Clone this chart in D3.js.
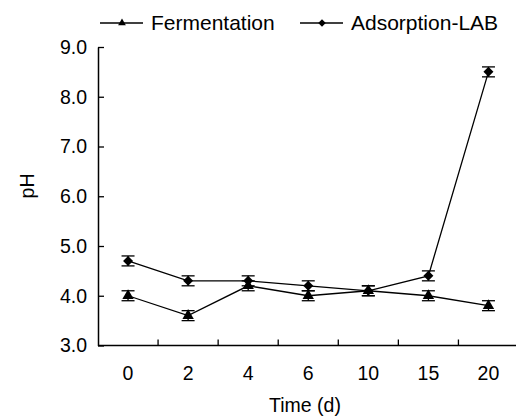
<!DOCTYPE html>
<html>
<head>
<meta charset="utf-8">
<script src="https://cdn.jsdelivr.net/npm/d3@7"></script>
<style>
  body { margin: 0; background: #fff; }
  svg { display: block; font-family: "Liberation Sans", Arial, sans-serif; }
</style>
</head>
<body>
<svg width="516" height="417"></svg>
<script>
// data
const days = ["0", "2", "4", "6", "10", "15", "20"];
const fermentation = [4.0, 3.6, 4.2, 4.0, 4.1, 4.0, 3.8];
const fermentationErr = [0.1, 0.1, 0.1, 0.1, 0.1, 0.1, 0.1];
const adsorption = [4.7, 4.3, 4.3, 4.2, 4.1, 4.4, 8.5];
const adsorptionErr = [0.1, 0.1, 0.1, 0.1, 0.1, 0.1, 0.1];
const yTicks = [3, 4, 5, 6, 7, 8, 9];

const svg = d3.select("svg");
const plotLeft = 98, plotRight = 518.5, plotTop = 47, plotBottom = 345.5;
const fs = "19.5px";

const x = d3.scaleBand().domain(days).range([plotLeft, plotRight]).padding(0);
const cx = d => x(d) + x.bandwidth() / 2;
const y = d3.scaleLinear().domain([3, 9]).range([plotBottom, plotTop]);

//y axis, ticks inside
const yAxis = svg.append("g")
  .attr("transform", `translate(${plotLeft},0)`)
  .call(d3.axisLeft(y).tickValues(yTicks).tickFormat(d3.format(".1f"))
    .tickSizeInner(-6).tickSizeOuter(0).tickPadding(11));
yAxis.select(".domain").attr("stroke-width", 1.5);
yAxis.selectAll(".tick line").attr("stroke-width", 1.3);
yAxis.selectAll("text").attr("font-size", fs).attr("fill", "#000")
  .attr("font-family", "Liberation Sans, Arial, sans-serif");

//x axis line + boundary ticks
svg.append("line")
  .attr("x1", plotLeft).attr("x2", 516)
  .attr("y1", plotBottom).attr("y2", plotBottom)
  .attr("stroke", "#000").attr("stroke-width", 1.5);
svg.append("g").selectAll("line")
  .data(days.slice(1))
  .join("line")
    .attr("x1", d => x(d)).attr("x2", d => x(d))
    .attr("y1", plotBottom).attr("y2", plotBottom - 6)
    .attr("stroke", "#000").attr("stroke-width", 1.3);

const xAxis = svg.append("g")
  .attr("transform", `translate(0,${plotBottom})`)
  .call(d3.axisBottom(x).tickSize(0).tickPadding(21));
xAxis.select(".domain").remove();
xAxis.selectAll("text").attr("font-size", fs).attr("fill", "#000")
  .attr("font-family", "Liberation Sans, Arial, sans-serif");

// axis titles
svg.append("text")
  .attr("x", 305).attr("y", 412)
  .attr("text-anchor", "middle")
  .attr("font-size", fs)
  .text("Time (d)");
svg.append("text")
  .attr("transform", "translate(34,186) rotate(-90)")
  .attr("text-anchor", "middle")
  .attr("font-size", fs)
  .text("pH");

const tri = d3.symbol().type(d3.symbolTriangle).size(56);
const dia = d3.symbol().type(d3.symbolSquare).size(50);
const triSmall = d3.symbol().type(d3.symbolTriangle).size(26);
const diaSmall = d3.symbol().type(d3.symbolSquare).size(28);

function drawSeries(vals, errs, sym, rot) {
  const pts = days.map((d, i) => ({ d, v: vals[i], e: errs[i] }));
  const g = svg.append("g");
  g.append("path")
    .datum(pts)
    .attr("fill", "none")
    .attr("stroke", "#000")
    .attr("stroke-width", 1.3)
    .attr("d", d3.line().x(p => cx(p.d)).y(p => y(p.v)));
  const eb = g.selectAll("g.eb").data(pts).join("g").attr("class", "eb");
  eb.append("line")
    .attr("x1", p => cx(p.d)).attr("x2", p => cx(p.d))
    .attr("y1", p => y(p.v - p.e)).attr("y2", p => y(p.v + p.e))
    .attr("stroke", "#000").attr("stroke-width", 1.3);
  [-1, 1].forEach(s => {
    eb.append("line")
      .attr("x1", p => cx(p.d) - 6.5).attr("x2", p => cx(p.d) + 6.5)
      .attr("y1", p => y(p.v + s * p.e)).attr("y2", p => y(p.v + s * p.e))
      .attr("stroke", "#000").attr("stroke-width", 1.3);
  });
  g.selectAll("path.m").data(pts).join("path").attr("class", "m")
    .attr("transform", p => `translate(${cx(p.d)},${y(p.v)}) rotate(${rot})`)
    .attr("d", sym)
    .attr("fill", "#000");
}
drawSeries(fermentation, fermentationErr, tri, 0);
drawSeries(adsorption, adsorptionErr, dia, 45);

// legend
const legendItems = [
  { name: "Fermentation", sym: triSmall, rot: 0, x: 100 },
  { name: "Adsorption-LAB", sym: diaSmall, rot: 45, x: 300 }
];
legendItems.forEach(it => {
  const g = svg.append("g").attr("transform", `translate(${it.x},23)`);
  g.append("line").attr("x1", 0).attr("x2", 43)
    .attr("stroke", "#000").attr("stroke-width", 1.3);
  g.append("path").attr("d", it.sym)
    .attr("transform", `translate(22,0) rotate(${it.rot})`).attr("fill", "#000");
  g.append("text").attr("x", 51).attr("y", 6.5)
    .attr("font-size", "21px").text(it.name);
});
</script>
</body>
</html>
